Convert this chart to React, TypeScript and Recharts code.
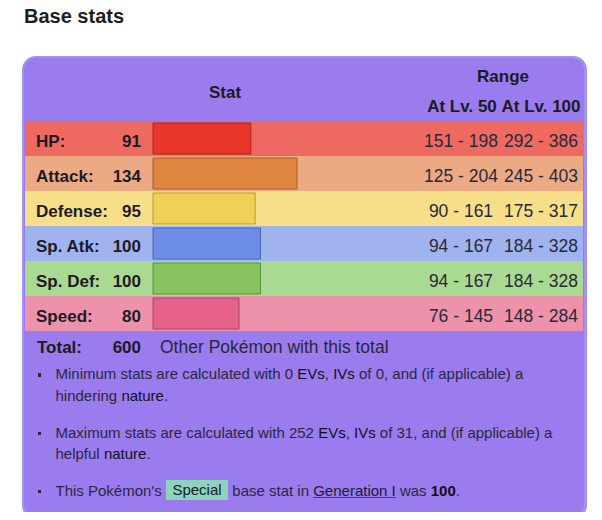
import { BarChart, Bar, XAxis, YAxis, Cell } from "recharts";

const statNames = ["HP", "Attack", "Defense", "Sp. Atk", "Sp. Def", "Speed"];
const baseStats = [91, 134, 95, 100, 100, 80];
const rangeLv50 = ["151 - 198", "125 - 204", "90 - 161", "94 - 167", "94 - 167", "76 - 145"];
const rangeLv100 = ["292 - 386", "245 - 403", "175 - 317", "184 - 328", "184 - 328", "148 - 284"];
const baseTotal = 600;

const rowColors = ["#ee6a61", "#ecaa84", "#f6df88", "#9fb3ef", "#aad991", "#ed92ab"];
const barColors = ["#e8362b", "#e0853f", "#f0d155", "#6e8de6", "#87c45f", "#e6628b"];
const barBorders = ["#a3281f", "#a65e2a", "#b59b38", "#4a64b5", "#5a9040", "#a84666"];

const FONT = '"Liberation Sans", Arial, Helvetica, sans-serif';
const AXIS_W = 128;
const TEXT = "#2a2838";
const DARK = "#1c1b24";

const data = statNames.map((name, i) => ({
  name,
  base: baseStats[i],
}));

function StatTick(props: any) {
  const { y, payload } = props;
  const i = payload.index ?? statNames.indexOf(payload.value);
  const by = y + 8;
  return (
    <g fontFamily={FONT}>
      <text x={11} y={by} fontSize={17} fontWeight="bold" fill={DARK}>
        {statNames[i]}:
      </text>
      <text x={116} y={by} fontSize={17} fontWeight="bold" fill={DARK} textAnchor="end">
        {baseStats[i]}
      </text>
      <text x={436} y={by} fontSize={17.5} fill={TEXT} textAnchor="middle">
        {rangeLv50[i]}
      </text>
      <text x={553} y={by} fontSize={17.5} fill={TEXT} textAnchor="end">
        {rangeLv100[i]}
      </text>
    </g>
  );
}

function RowBackground(props: any) {
  const { x, y, width, height, index } = props;
  return (
    <rect
      x={x - AXIS_W}
      y={y - 2}
      width={width + AXIS_W}
      height={height + 4}
      fill={rowColors[index]}
    />
  );
}

const abs = (left: number, top: number, extra: any = {}) => ({
  position: "absolute" as const,
  left,
  top,
  whiteSpace: "nowrap" as const,
  ...extra,
});

function Bullet({ top, children }: { top: number; children: any }) {
  return (
    <>
      <div style={abs(37.5, top + 10, { width: 3.5, height: 3.5, background: "#2a2838" })} />
      <div style={abs(55.5, top, { fontSize: 15, lineHeight: "21.7px", color: TEXT })}>
        {children}
      </div>
    </>
  );
}

const strong = { color: "#111018" };

export default function App() {
  return (
    <div
      style={{
        position: "relative",
        width: 602,
        height: 520,
        margin: -8,
        overflow: "hidden",
        background: "#fff",
        fontFamily: FONT,
      }}
    >
      <div style={abs(24, 6, { fontSize: 20, lineHeight: "20px", fontWeight: "bold", color: "#1d1d1f" })}>
        Base stats
      </div>

      <div
        style={abs(22, 56, {
          width: 565,
          height: 463,
          background: "#a491f3",
          borderRadius: 14,
        })}
      />
      <div
        style={abs(24, 58, {
          width: 560,
          height: 458,
          background: "#9a7cef",
          borderRadius: 12,
        })}
      />

      <div style={abs(225, 84, { fontSize: 17, lineHeight: "17px", fontWeight: "bold", color: DARK, transform: "translateX(-50%)" })}>
        Stat
      </div>
      <div style={abs(503, 68, { fontSize: 17, lineHeight: "17px", fontWeight: "bold", color: DARK, transform: "translateX(-50%)" })}>
        Range
      </div>
      <div style={abs(462, 98.3, { fontSize: 17, lineHeight: "17px", fontWeight: "bold", color: DARK, transform: "translateX(-50%)" })}>
        At Lv. 50
      </div>
      <div style={abs(541, 98.3, { fontSize: 17, lineHeight: "17px", fontWeight: "bold", color: DARK, transform: "translateX(-50%)" })}>
        At Lv. 100
      </div>

      <div style={abs(25, 121)}>
        <BarChart
          width={558}
          height={210}
          data={data}
          layout="vertical"
          margin={{ top: 0, right: 0, bottom: 0, left: 0 }}
        >
          <XAxis type="number" domain={[0, 400]} hide />
          <YAxis
            type="category"
            dataKey="name"
            width={AXIS_W}
            axisLine={false}
            tickLine={false}
            interval={0}
            tick={(p: any) => <StatTick {...p} />}
          />
          <Bar
            dataKey="base"
            barSize={31}
            isAnimationActive={false}
            background={(p: any) => <RowBackground {...p} />}
            strokeWidth={1}
          >
            {data.map((d, i) => (
              <Cell key={d.name} fill={barColors[i]} stroke={barBorders[i]} />
            ))}
          </Bar>
        </BarChart>
      </div>

      <div style={abs(37, 338.9, { fontSize: 17, lineHeight: "17px", fontWeight: "bold", color: DARK })}>
        Total:
      </div>
      <div style={abs(141, 338.9, { fontSize: 17, lineHeight: "17px", fontWeight: "bold", color: DARK, transform: "translateX(-100%)" })}>
        {baseTotal}
      </div>
      <div style={abs(160, 338.5, { fontSize: 17.5, lineHeight: "17.5px", color: TEXT })}>
        Other Pokémon with this total
      </div>

      <Bullet top={363.3}>
        Minimum stats are calculated with 0 <span style={strong}>EVs</span>,{" "}
        <span style={strong}>IVs</span> of 0, and (if applicable) a
        <br />
        hindering <span style={strong}>nature</span>.
      </Bullet>
      <Bullet top={421.6}>
        Maximum stats are calculated with 252 <span style={strong}>EVs</span>,{" "}
        <span style={strong}>IVs</span> of 31, and (if applicable) a
        <br />
        helpful <span style={strong}>nature</span>.
      </Bullet>
      <Bullet top={479.6}>
        This Pokémon's{" "}
        <span style={{ background: "#91d2bf", padding: "1.3px 6.5px", color: "#14202a" }}>Special</span>{" "}
        base stat in{" "}
        <span style={{ color: "#1b1b2e", textDecoration: "underline", textDecorationColor: "#2b3aa8" }}>
          Generation I
        </span>{" "}
        was <b style={strong}>100</b>.
      </Bullet>

      <div style={abs(594, 500, { width: 3, height: 24, background: "#707070", borderRadius: 2 })} />
    </div>
  );
}
